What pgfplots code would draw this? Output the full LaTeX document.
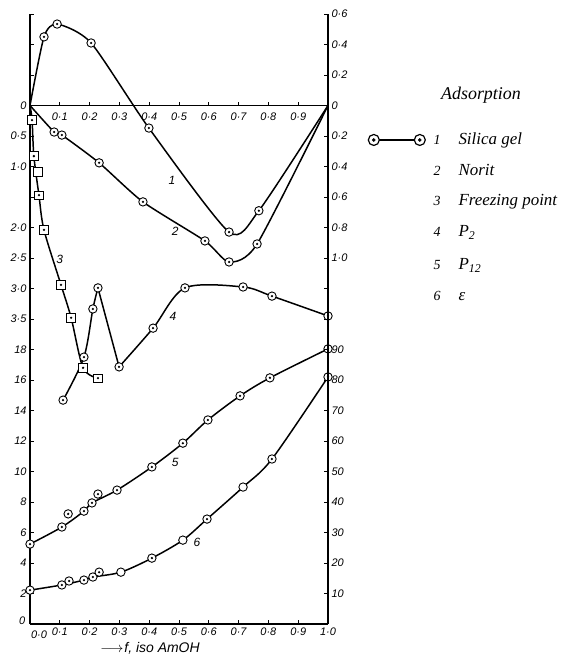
\documentclass[border=0pt]{standalone}
\usepackage{pgfplots}
\pgfplotsset{compat=1.18}
\usepackage{pgfplotstable}
\usepackage{fontspec}
\setmainfont{Liberation Serif}
\setsansfont{Liberation Sans}

\pgfdeclareplotmark{odot}{%
  \pgfpathcircle{\pgfpointorigin}{\pgfplotmarksize}%
  \pgfsetfillcolor{white}\pgfusepathqfillstroke
  \pgfpathcircle{\pgfpointorigin}{0.3\pgfplotmarksize}%
  \pgfsetfillcolor{black}\pgfusepathqfill}
\pgfdeclareplotmark{sdot}{%
  \pgfpathrectanglecorners{\pgfqpoint{-\pgfplotmarksize}{-\pgfplotmarksize}}{\pgfqpoint{\pgfplotmarksize}{\pgfplotmarksize}}%
  \pgfsetfillcolor{white}\pgfusepathqfillstroke
  \pgfpathcircle{\pgfpointorigin}{0.3\pgfplotmarksize}%
  \pgfsetfillcolor{black}\pgfusepathqfill}
\pgfdeclareplotmark{ocirc}{%
  \pgfpathcircle{\pgfpointorigin}{\pgfplotmarksize}%
  \pgfsetfillcolor{white}\pgfusepathqfillstroke}
\pgfdeclareplotmark{osq}{%
  \pgfpathrectanglecorners{\pgfqpoint{-\pgfplotmarksize}{-\pgfplotmarksize}}{\pgfqpoint{\pgfplotmarksize}{\pgfplotmarksize}}%
  \pgfsetfillcolor{white}\pgfusepathqfillstroke}

% 1 Silica gel (right upper scale)
\pgfplotstableread{
x v
0 0
0.047 0.45
0.091 0.534
0.205 0.41
0.399 -0.148
0.668 -0.83
0.768 -0.69
1.0 0
}\silica
% 2 Norit (left upper scale, downward)
\pgfplotstableread{
x v
0 0
0.081 0.435
0.107 0.485
0.232 0.94
0.379 1.58
0.587 2.22
0.668 2.565
0.762 2.27
1.0 0
}\norit
% 3 Freezing point (left upper scale, downward)
\pgfplotstableread{
x v
0 0
0.007 0.24
0.013 0.83
0.030 1.47
0.047 2.04
0.104 2.94
0.138 3.48
0.178 4.30
0.228 4.47
}\freeze
\pgfplotstableread{
x v
0.027 1.09
}\freezeextra
% 4 P2 (left scale 14-18)
\pgfplotstableread{
x v
0.111 14.68
0.181 17.5
0.211 20.66
0.228 22.04
0.299 16.86
0.413 19.4
0.520 22.04
0.715 22.1
0.812 21.5
1.0 20.2
}\ptwo
% 5 P12 (left scale 0-18)
\pgfplotstableread{
x v
0 5.24
0.107 6.36
0.128 7.22
0.181 7.4
0.208 7.94
0.228 8.52
0.292 8.78
0.409 10.3
0.513 11.86
0.597 13.38
0.705 14.96
0.805 16.14
1.0 18.04
}\ptwelve
% 6 epsilon (right scale 10-90)
\pgfplotstableread{
x v
0 11.1
0.107 12.8
0.131 14.1
0.181 14.4
0.211 15.4
0.232 17.0
0.305 17.0
0.409 21.6
0.513 27.5
0.594 34.4
0.715 44.9
0.812 54.1
1.0 81.0
}\eps

\pgfplotsset{
  base/.style={at={(0,0)}, anchor=south west, width=298bp, height=610bp,
    scale only axis, xmin=0, xmax=1, ymin=0, ymax=20, clip=false,
    axis line style={-, line width=1.6pt},
    tick label style={font=\sffamily\itshape\fontsize{11}{11}\selectfont},
    tick style={line width=0.9pt, black},
    major tick length=4bp},
  curve/.style={black, line width=1.5pt, smooth, mark size=4.2bp,
    mark options={line width=0.9pt, solid}},
  pts/.style={only marks, mark size=4.2bp, mark options={line width=0.9pt}},
}

\begin{document}
\begin{tikzpicture}
\begin{axis}[base,
  axis x line*=bottom, axis y line*=left,
  xtick={0,0.1,0.2,0.3,0.4,0.5,0.6,0.7,0.8,0.9,1},
  xticklabels={,0·1,0·2,0·3,0·4,0·5,0·6,0·7,0·8,0·9,1·0},
  ytick={0,1,...,20},
  yticklabels={,2,4,6,8,10,12,14,16,18,3·5,3·0,2·5,2·0,,1·0,0·5,0,,,},
  legend style={at={(axis cs:1.1326,15.87)}, anchor=west, draw=none, fill=none,
    inner sep=0pt, nodes={inner sep=0pt}},
]
\addlegendimage{legend image code/.code={
  \draw[line width=1.9pt] (6bp,0bp) -- (52bp,0bp);
  \draw[line width=1.2pt, fill=white] (6bp,0bp) circle (5.5bp);
  \fill (6bp,0bp) circle (1.6bp);
  \draw[line width=1.2pt, fill=white] (52bp,0bp) circle (5.5bp);
  \fill (52bp,0bp) circle (1.6bp);}}
\addlegendentry{\mbox{}}

% 1 Silica gel
\addplot[curve, tension=0.4, mark=odot, mark indices={2,3,4,5,6,7}]
  table[x=x, y expr=17+5*\thisrow{v}] {\silica};
% 2 Norit
\addplot[curve, tension=0.4, mark=odot, mark indices={2,3,4,5,6,7,8}]
  table[x=x, y expr=17-2*\thisrow{v}] {\norit};
% 3 Freezing point
\addplot[curve, mark=sdot, mark indices={2,3,4,5,6,7,8,9}]
  table[x=x, y expr=17-2*\thisrow{v}] {\freeze};
\addplot[pts, mark=osq] table[x=x, y expr=17-2*\thisrow{v}] {\freezeextra};
% 4 P2
\addplot[curve, skip coords between index={4}{10}]
  table[x=x, y expr=\thisrow{v}/2] {\ptwo};
\addplot[curve, sharp plot, skip coords between index={0}{3}, skip coords between index={5}{10}]
  table[x=x, y expr=\thisrow{v}/2] {\ptwo};
\addplot[curve, skip coords between index={0}{4}]
  table[x=x, y expr=\thisrow{v}/2] {\ptwo};
\addplot[pts, mark=odot] table[x=x, y expr=\thisrow{v}/2] {\ptwo};
% 5 P12
\addplot[curve, skip coords between index={2}{3}, skip coords between index={5}{6}]
  table[x=x, y expr=\thisrow{v}/2] {\ptwelve};
\addplot[pts, mark=odot] table[x=x, y expr=\thisrow{v}/2] {\ptwelve};
% 6 epsilon
\addplot[curve, skip coords between index={2}{3}, skip coords between index={5}{6}]
  table[x=x, y expr=\thisrow{v}/10] {\eps};
\addplot[pts, mark=odot, mark indices={1,2,3,4,5,6,8,10,12,13}]
  table[x=x, y expr=\thisrow{v}/10] {\eps};
\addplot[pts, mark=ocirc, mark indices={7,9,11}]
  table[x=x, y expr=\thisrow{v}/10] {\eps};

\begin{scope}[font=\sffamily\itshape\fontsize{12}{12}\selectfont]
\node at (axis cs:0.476,14.56) {1};
\node at (axis cs:0.487,12.89) {2};
\node at (axis cs:0.100,11.97) {3};
\node at (axis cs:0.480,10.10) {4};
\node at (axis cs:0.487,5.31) {5};
\node at (axis cs:0.560,2.69) {6};
\end{scope}
\node[anchor=east, inner sep=0pt, font=\sffamily\itshape\fontsize{11}{11}\selectfont]
  at (axis cs:-0.015,0.12) {0};
\node[anchor=north, font=\sffamily\itshape\fontsize{11}{11}\selectfont]
  at (axis cs:0.03,-0.1) {0·0};
\end{axis}

\begin{axis}[base,
  axis y line*=right, axis x line=none,
  ytick={1,2,...,20},
  yticklabels={10,20,30,40,50,60,70,80,90,,,1·0,0·8,0·6,0·4,0·2,0,0·2,0·4,0·6},
]
\end{axis}

% zero line of the upper scales, with its own f labels
\draw[line width=1.5pt] (0bp,518.5bp) -- (298bp,518.5bp);
\foreach \i/\l in {1/0·1,2/0·2,3/0·3,4/0·4,5/0·5,6/0·6,7/0·7,8/0·8,9/0·9}{
  \draw[line width=0.9pt] (\i*29.8bp,518.5bp) -- ++(0bp,3.5bp);
  \node[font=\sffamily\itshape\fontsize{11}{11}\selectfont] at (\i*29.8bp,507bp) {\l};
}

% x-axis label
\node[font=\sffamily\itshape\fontsize{14}{14}\selectfont] at (120bp,-24bp)
  {$\longrightarrow$\kern1bp f, iso AmOH};

% legend texts
\node[font=\itshape\fontsize{18}{18}\selectfont] at (451bp,529bp) {Adsorption};
\begin{scope}[font=\itshape\fontsize{17}{17}\selectfont]
\node[anchor=base] at (407bp,479bp) {\fontsize{14}{14}\selectfont 1};
\node[anchor=base west] at (425bp,479bp) {Silica gel};
\node[anchor=base] at (407bp,448bp) {\fontsize{14}{14}\selectfont 2};
\node[anchor=base west] at (425bp,448bp) {Norit};
\node[anchor=base] at (407bp,418bp) {\fontsize{14}{14}\selectfont 3};
\node[anchor=base west] at (425bp,418bp) {Freezing point};
\node[anchor=base] at (407bp,387bp) {\fontsize{14}{14}\selectfont 4};
\node[anchor=base west] at (425bp,387bp) {P\textsubscript{2}};
\node[anchor=base] at (407bp,354bp) {\fontsize{14}{14}\selectfont 5};
\node[anchor=base west] at (425bp,354bp) {P\textsubscript{12}};
\node[anchor=base] at (407bp,323bp) {\fontsize{14}{14}\selectfont 6};
\node[anchor=base west] at (425bp,323bp) {ε};
\end{scope}

\pgfresetboundingbox
\path (-30bp,-35bp) rectangle (542bp,624bp);
\end{tikzpicture}
\end{document}
